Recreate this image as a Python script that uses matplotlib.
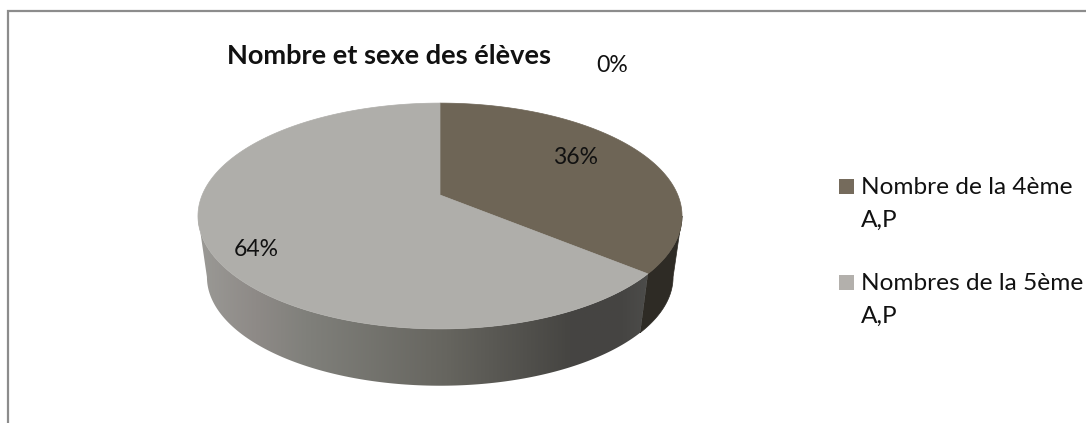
import numpy as np
import matplotlib
matplotlib.use('Agg')
import matplotlib.pyplot as plt
from matplotlib.colors import LinearSegmentedColormap
from matplotlib.patches import Polygon, Rectangle

plt.rcParams['font.family'] = ['Lato', 'DejaVu Sans']

title = 'Nombre et sexe des élèves'
categories = ['Nombre de la 4ème\nA,P', 'Nombres de la 5ème\nA,P', '']
values = [36, 64, 0]
pct_labels = ['36%', '64%', '0%']
colors = ['#6e6556', '#afaeaa']

fig = plt.figure(figsize=(10.86, 4.23), dpi=100)
ax = fig.add_axes([0, 0, 1, 1])
ax.set_xlim(0, 1086)
ax.set_ylim(423, 0)
ax.axis('off')

# chart frame, only top and left are visible in the crop
ax.plot([7.5, 7.5, 1086], [423, 11.5, 11.5], color='#8c8c8c', lw=1.6, solid_joinstyle='miter')

# perspective view of the disc
cx, apex_y = 440, 195
k, a, b = 0.186, 109, 237.8
ell_y = 216
bottom_y, shrink = 277, 0.963


def top_rim(theta):
    # theta in degrees, clockwise from 12 o'clock
    t = np.radians(theta)
    u, v = np.sin(t), np.cos(t)
    d = 1 + k * v
    return cx + b * u / d, apex_y - a * v / d


def bottom_rim(theta):
    x, y = top_rim(theta)
    return cx + (x - cx) * shrink, bottom_y + (y - ell_y) * shrink


def side_poly(t0, t1):
    th = np.linspace(t0, t1, 150)
    x0, y0 = top_rim(th)
    x1, y1 = bottom_rim(th[::-1])
    return np.column_stack([np.r_[x0, x1], np.r_[y0, y1]])


def sector(t0, t1):
    th = np.linspace(t0, t1, 200)
    x, y = top_rim(th)
    return np.column_stack([np.r_[cx, x], np.r_[apex_y, y]])


total = sum(values)
split = 360 * values[0] / total

# side wall: dark piece under the brown slice, gradient under the grey one
right_t, left_t = 90 + 10.7, 270 - 10.7
ax.add_patch(Polygon(side_poly(right_t, split), closed=True, fc='#2e2b25', ec='#2e2b25', lw=0.5, zorder=2))

grad = LinearSegmentedColormap.from_list('side', [
    (0.0, '#9b9a96'), (0.13, '#8e8a87'), (0.24, '#80807b'), (0.55, '#66655f'),
    (0.82, '#464542'), (0.93, '#454442'), (1.0, '#4d4d4b')])
im = ax.imshow(np.linspace(0, 1, 256)[None, :], cmap=grad, extent=(196, 652, 390, 210),
               aspect='auto', zorder=2)
clip = Polygon(side_poly(split, left_t), closed=True, fc='none', ec='none', transform=ax.transData)
ax.add_patch(clip)
im.set_clip_path(clip)
ax.set_xlim(0, 1086)
ax.set_ylim(423, 0)

# top face, drawn from the values
start = 0
for val, col in zip(values[:2], colors):
    end = start + 360 * val / total
    ax.add_patch(Polygon(sector(start, end), closed=True, fc=col, ec=col, lw=0.5, zorder=3))
    start = end

# data labels
lab_size = 16.6
ax.text(576, 158, pct_labels[0], fontsize=lab_size, ha='center', va='center', color='#111111', zorder=4)
ax.text(256, 249, pct_labels[1], fontsize=lab_size, ha='center', va='center', color='#111111', zorder=4)
ax.text(612, 66, pct_labels[2], fontsize=lab_size, ha='center', va='center', color='#111111', zorder=4)

ax.text(389, 56, title, fontsize=19.5, fontweight='bold', ha='center', va='center', color='#111111')

# legend
leg_size = 17.6
ax.add_patch(Rectangle((839, 179), 15, 15, fc='#756b5c', ec='none'))
ax.add_patch(Rectangle((839, 275), 15, 15, fc='#b3b0ac', ec='none'))
ax.text(861, 187, categories[0].split('\n')[0], fontsize=leg_size, va='center', color='#111111')
ax.text(861, 220, categories[0].split('\n')[1], fontsize=leg_size, va='center', color='#111111')
ax.text(861, 283, categories[1].split('\n')[0], fontsize=leg_size, va='center', color='#111111')
ax.text(861, 316, categories[1].split('\n')[1], fontsize=leg_size, va='center', color='#111111')

fig.savefig('out.png', dpi=100)
